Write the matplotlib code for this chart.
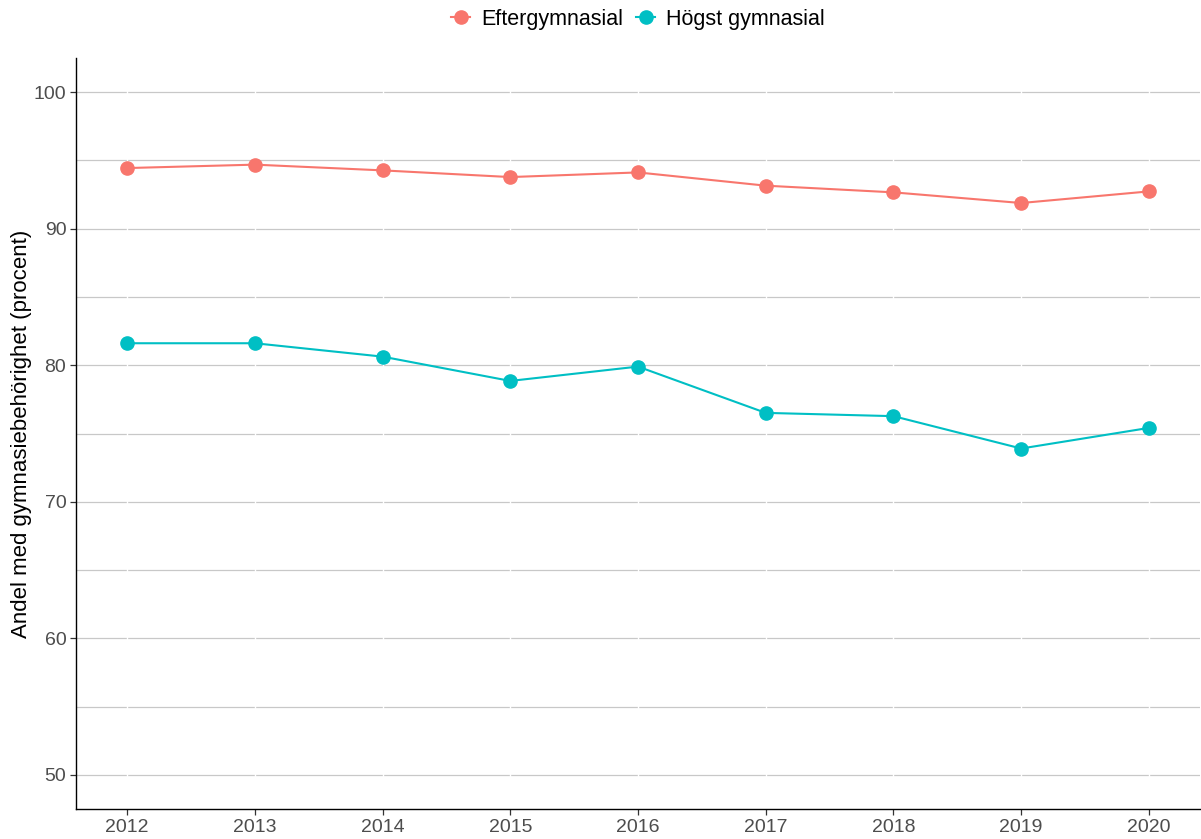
import matplotlib
matplotlib.use("Agg")
import matplotlib.pyplot as plt
from matplotlib.lines import Line2D

years = [2012, 2013, 2014, 2015, 2016, 2017, 2018, 2019, 2020]
eftergymnasial = [94.44, 94.69, 94.27, 93.78, 94.12, 93.15, 92.66, 91.88, 92.73]
hogst_gymnasial = [81.61, 81.61, 80.63, 78.85, 79.90, 76.51, 76.27, 73.90, 75.41]
series_names = ["Eftergymnasial", "Högst gymnasial"]
colors = ["#F8766D", "#00BFC4"]
y_ticks = [50, 60, 70, 80, 90, 100]
y_label = "Andel med gymnasiebehörighet (procent)"

plt.rcParams['font.family'] = ['Liberation Sans', 'DejaVu Sans']

fig = plt.figure(figsize=(12.01, 8.39), dpi=100)
W, H = 1201, 839
left, right, top, bottom = 76, 1200, 58, 809
ax = fig.add_axes([left / W, 1 - bottom / H, (right - left) / W, (bottom - top) / H])

# grid lines (major + minor) horizontal
for v in range(50, 101, 5):
    ax.axhline(v, color="#C8C8C8", lw=0.9, zorder=1)
for yr in years:
    ax.axvline(yr, color="white", lw=1.0, zorder=1.5)

for vals, c, name in zip([eftergymnasial, hogst_gymnasial], colors, series_names):
    ax.plot(years, vals, color=c, lw=1.5, marker="o", markersize=9.5, zorder=3, label=name)

ax.set_xlim(2011.6, 2020.4)
ax.set_ylim(47.5, 102.5)
ax.set_xticks(years)
ax.set_xticklabels([str(y) for y in years])
ax.set_yticks(y_ticks)
ax.tick_params(axis="both", labelsize=14, labelcolor="#4D4D4D", color="#333333",
               length=4, width=0.9, direction="out", pad=3)
for s in ["top", "right"]:
    ax.spines[s].set_visible(False)
for s in ["left", "bottom"]:
    ax.spines[s].set_color("black")
    ax.spines[s].set_linewidth(1.0)
ax.set_ylabel(y_label, fontsize=16, color="black", labelpad=1.5)

handles = [Line2D([0], [0], color=c, lw=1.5, marker="o", markersize=9.5) for c in colors]
fig.legend(handles, series_names, loc="center", bbox_to_anchor=(((left + right) / 2) / W, 1 - 19 / H),
           ncol=2, frameon=False, fontsize=15.5, handlelength=0.9, handletextpad=0.5,
           columnspacing=0.6)

fig.savefig("out.png", dpi=100)
